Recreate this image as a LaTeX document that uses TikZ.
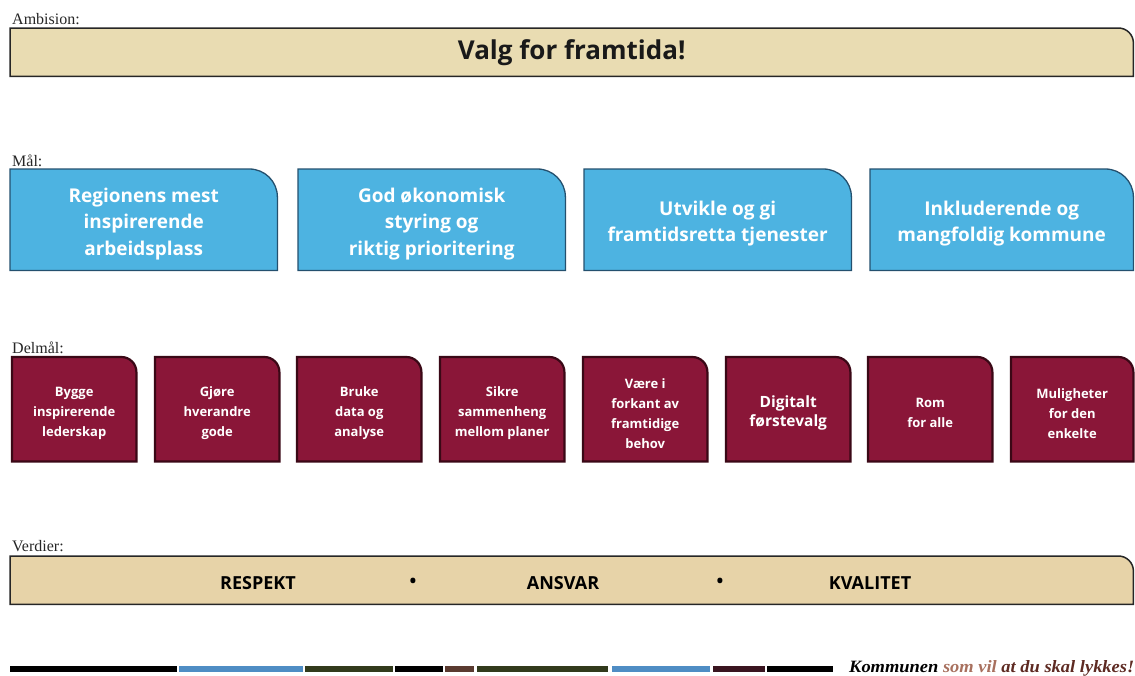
\documentclass[tikz,border=0pt]{standalone}
\usepackage{fontspec}
\setmainfont{Liberation Serif}
\newfontfamily\boxfont{Open Sans}
\usetikzlibrary{backgrounds}

\definecolor{ivory}{HTML}{E9DCB2}
\definecolor{ivorytwo}{HTML}{E7D3A8}
\definecolor{skyb}{HTML}{4DB3E1}
\definecolor{skyedge}{HTML}{24506E}
\definecolor{wine}{HTML}{8A1638}
\definecolor{wineedge}{HTML}{3A0816}
\definecolor{stripblue}{HTML}{4F8DC4}
\definecolor{stripolive}{HTML}{323A1C}
\definecolor{stripbrown}{HTML}{5A3A30}
\definecolor{stripwine}{HTML}{3A1520}
\definecolor{slogred}{HTML}{5E2A22}
\definecolor{sloglight}{HTML}{A8705E}

% name, radius, style, vertical offset of frame against the node (canvas, up positive)
\newcommand\tabshape[4]{%
  \filldraw[#3] ([yshift=#4]#1.south west) -- ([yshift=#4]#1.north west)
    -- ([xshift=-#2,yshift=#4]#1.north east)
    .. controls ([xshift=-0.448*#2,yshift=#4]#1.north east) and ([yshift=-0.448*#2+#4]#1.north east)
    .. ([yshift=-#2+#4]#1.north east) -- ([yshift=#4]#1.south east) -- cycle;}

\begin{document}
\begin{tikzpicture}[x=1pt,y=-1pt,
  lbl/.style={anchor=base west, inner sep=0, font=\fontsize{16}{18}\selectfont, text=black!85},
  bannerbox/.style={anchor=north west, inner sep=0, minimum width=1123pt, minimum height=48pt},
  goal/.style={anchor=north west, inner sep=0, minimum width=267pt, minimum height=101pt,
    text=white, align=center, font=\boxfont\bfseries\fontsize{19}{26.5}\selectfont},
  sub/.style={anchor=north west, inner sep=0, minimum width=124pt, minimum height=104pt,
    text=white, align=center, font=\boxfont\bfseries\fontsize{13}{20}\selectfont},
  value/.style={inner sep=0, font=\boxfont\bfseries\fontsize{18}{22}\selectfont, text=black},
  bannershape/.style={fill=ivory, draw=black!85, line width=1.5pt},
  valshape/.style={fill=ivorytwo, draw=black!85, line width=1.5pt},
  goalshape/.style={fill=skyb, draw=skyedge, line width=1.3pt},
  subshape/.style={fill=wine, draw=wineedge, line width=2.2pt}]
\useasboundingbox (0,0) rectangle (1135,675);

% labels
\node[lbl] (lamb) at (12,24) {Ambision:};
\node[lbl] (lmal) at (12,166) {Mål:};
\node[lbl] (ldel) at (12,353) {Delmål:};
\node[lbl] (lver) at (12,551) {Verdier:};

% ambition
\node[bannerbox, font=\boxfont\bfseries\fontsize{26}{30}\selectfont, text=black!90] (amb) at (10,28) {Valg for framtida!};

% goals (node placed 4 units lower than its frame)
\node[goal] (g1) at (10,173) {Regionens mest\\inspirerende\\arbeidsplass};
\node[goal] (g2) at (298,173) {God økonomisk\\styring og\\riktig prioritering};
\node[goal] (g3) at (584,173) {Utvikle og gi\\framtidsretta tjenester};
\node[goal, minimum width=263pt] (g4) at (870,173) {Inkluderende og\\mangfoldig kommune};

% sub-goals (node placed 4 units lower than its frame)
\node[sub] (d1) at (12,361) {Bygge\\inspirerende\\lederskap};
\node[sub] (d2) at (155,361) {Gjøre\\hverandre\\gode};
\node[sub] (d3) at (297,361) {Bruke\\data og\\analyse};
\node[sub] (d4) at (440,361) {Sikre\\sammenheng\\mellom planer};
\node[sub] (d5) at (583,361) {Være i\\forkant av\\framtidige\\behov};
\node[sub, font=\boxfont\bfseries\fontsize{15.5}{19}\selectfont] (d6) at (726,361) {Digitalt\\førstevalg};
\node[sub] (d7) at (868,361) {Rom\\for alle};
\node[sub, minimum width=122pt] (d8) at (1011,361) {Muligheter\\for den\\enkelte};

% values
\node[bannerbox] (ver) at (10,556) {};
\node[value] (v1) at (258,583) {RESPEKT};
\node[value] (b1) at (413,583) {•};
\node[value] (v2) at (563,583) {ANSVAR};
\node[value] (b2) at (720,583) {•};
\node[value] (v3) at (870,583) {KVALITET};

% slogan
\node[anchor=west, inner sep=0] (slogan) at (849,668)
  {\resizebox{285pt}{12pt}{\bfseries\itshape Kommunen {\color{sloglight}som vil} {\color{slogred}at du skal lykkes!}}};

\begin{pgfonlayer}{background}
  \tabshape{amb}{15pt}{bannershape}{0pt}
  \tabshape{ver}{15pt}{valshape}{0pt}
  \foreach \n in {g1,g2,g3,g4} {\tabshape{\n}{28pt}{goalshape}{4pt}}
  \foreach \n in {d1,d2,d3,d4,d5,d6,d7,d8} {\tabshape{\n}{15pt}{subshape}{4pt}}
\end{pgfonlayer}

% bottom strip
\fill[black] (10,666) rectangle (177,672);
\fill[stripblue] (179,666) rectangle (303,672);
\fill[stripolive] (305,666) rectangle (393,672);
\fill[black] (395,666) rectangle (443,672);
\fill[stripbrown] (445,666) rectangle (474,672);
\fill[stripolive] (477,666) rectangle (608,672);
\fill[stripblue] (612,666) rectangle (710,672);
\fill[stripwine] (713,666) rectangle (765,672);
\fill[black] (767,666) rectangle (833,672);
\end{tikzpicture}
\end{document}
